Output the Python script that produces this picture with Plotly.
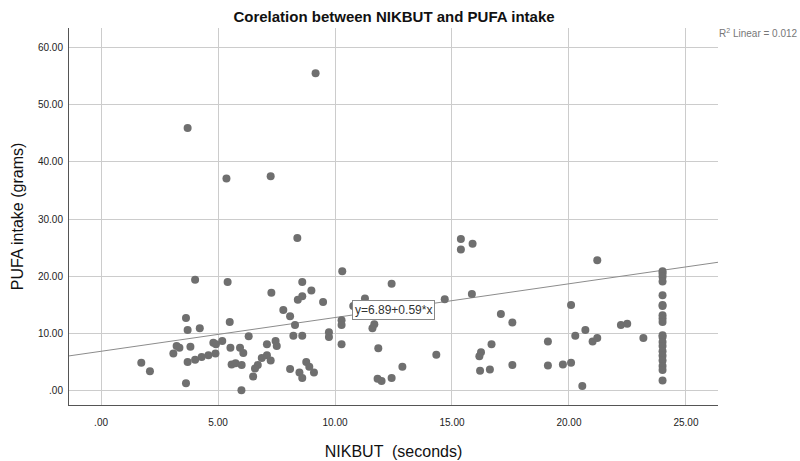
import plotly.graph_objects as go

# NIKBUT (seconds) and PUFA intake (grams) per subject
nikbut = [
    9.17, 3.70, 5.36, 7.25,
    8.39, 10.31, 4.02, 5.41, 8.60, 8.99, 7.28, 8.60, 8.41, 9.49, 7.79, 8.08,
    3.63, 10.78, 10.28, 10.28, 5.50, 8.29, 3.70, 4.22, 8.22, 8.60, 9.74, 9.74,
    6.31, 10.28, 5.18, 4.80, 4.91, 7.46, 7.51, 7.09, 3.23, 3.35, 3.82, 5.53,
    5.94, 6.08, 3.09, 4.89, 4.59, 4.30, 4.02, 3.70, 1.72, 2.09, 6.87, 7.09,
    7.25, 6.70, 6.58, 6.50, 5.58, 5.75, 6.01, 6.00, 3.63, 8.08, 8.48, 8.60,
    8.77, 8.90, 9.10,
    15.38, 15.88, 15.38, 12.42, 15.85, 14.69, 11.28, 17.09, 17.58, 11.68, 11.60,
    11.85, 14.33, 16.69, 16.24, 16.17, 12.88, 11.82, 11.99, 12.42, 16.20, 16.62,
    17.58,
    21.21, 20.09, 19.10, 19.10, 19.74, 20.09, 20.57, 20.27, 20.70, 21.01, 21.21,
    22.22, 22.49, 23.18,
    24.0, 24.0, 24.0, 24.0, 24.0, 24.0, 24.0, 24.0, 24.0, 24.0,
    24.0, 24.0, 24.0, 24.0, 24.0, 24.0, 24.0, 24.0, 24.0, 24.0,
]
pufa = [
    55.5, 45.9, 37.1, 37.5,
    26.7, 20.9, 19.4, 19.0, 19.0, 17.5, 17.1, 16.5, 15.9, 15.5, 14.1, 13.0,
    12.7, 14.8, 12.3, 11.5, 12.0, 11.5, 10.6, 10.9, 9.6, 9.6, 10.2, 9.4,
    9.5, 8.1, 8.7, 8.4, 8.1, 8.7, 7.8, 8.1, 7.8, 7.5, 7.7, 7.5,
    7.5, 6.6, 6.5, 6.5, 6.2, 5.9, 5.4, 5.0, 4.9, 3.4, 5.7, 6.2,
    5.3, 4.5, 3.9, 2.5, 4.6, 4.8, 4.5, 0.1, 1.3, 3.8, 3.2, 2.2,
    5.0, 4.2, 3.2,
    26.5, 25.7, 24.7, 18.7, 16.9, 16.0, 16.1, 13.4, 11.9, 11.6, 10.9,
    7.4, 6.3, 8.1, 6.7, 6.0, 4.2, 2.1, 1.7, 2.2, 3.5, 3.7,
    4.5,
    22.8, 15.0, 8.6, 4.4, 4.6, 4.9, 0.8, 9.6, 10.6, 8.6, 9.2,
    11.5, 11.7, 9.2,
    20.9, 20.5, 19.9, 19.1, 16.7, 15.0, 14.8, 13.2, 12.6, 12.0,
    9.7, 9.4, 8.5, 7.8, 6.9, 6.1, 5.3, 4.3, 3.6, 1.8,
]

# Linear fit as reported: y = 6.89 + 0.59*x
intercept = 6.89
slope = 0.59
r_squared = 0.012

x_range = [-1.37, 26.37]
y_range = [-2.5, 63.4]

x_ticks = [0, 5, 10, 15, 20, 25]
x_tick_text = [".00", "5.00", "10.00", "15.00", "20.00", "25.00"]
y_ticks = [0, 10, 20, 30, 40, 50, 60]
y_tick_text = [".00", "10.00", "20.00", "30.00", "40.00", "50.00", "60.00"]

FONT = "Liberation Sans, Arial, sans-serif"

fig = go.Figure()

fit_x = x_range
fit_y = [intercept + slope * v for v in fit_x]
fig.add_trace(go.Scatter(
    x=fit_x, y=fit_y, mode="lines",
    line=dict(color="#8c8c8c", width=1),
    hoverinfo="skip", showlegend=False,
))

fig.add_trace(go.Scatter(
    x=nikbut, y=pufa, mode="markers",
    marker=dict(color="#6f6f6f", size=8, line=dict(width=0)),
    showlegend=False,
))

# equation label sitting on the fit line
lx = 12.5
fig.add_annotation(
    x=lx, y=intercept + slope * lx - 0.2, xref="x", yref="y",
    text=f"y={intercept:.2f}+{slope:.2f}*x", showarrow=False,
    font=dict(family=FONT, size=12, color="#333333"),
    bgcolor="white", bordercolor="#888888", borderwidth=1, borderpad=2,
)

fig.add_annotation(
    x=0.998, y=0.987, xref="paper", yref="paper", xanchor="left", yanchor="middle",
    text=f"R<sup>2</sup> Linear = {r_squared:.3f}", showarrow=False,
    font=dict(family=FONT, size=10, color="#777777"),
)

fig.update_layout(
    width=800, height=461,
    margin=dict(l=69, r=82, t=28, b=56),
    paper_bgcolor="white", plot_bgcolor="white",
    title=dict(
        text="<b>Corelation between NIKBUT and PUFA intake</b>",
        x=0.4925, xanchor="center", y=0.963, yanchor="middle",
        font=dict(family=FONT, size=15, color="#111111"),
    ),
    xaxis=dict(
        range=x_range, tickvals=x_ticks, ticktext=x_tick_text,
        showgrid=True, gridcolor="#cccccc", gridwidth=1,
        zeroline=False, showline=True, linecolor="#555555", linewidth=1,
        ticks="", ticklabelstandoff=8, automargin=False,
        tickfont=dict(family=FONT, size=10, color="#222222"),
        title=dict(text="NIKBUT  (seconds)", standoff=18,
                   font=dict(family=FONT, size=16, color="#111111")),
    ),
    yaxis=dict(
        range=y_range, tickvals=y_ticks, ticktext=y_tick_text,
        showgrid=True, gridcolor="#cccccc", gridwidth=1,
        zeroline=False, showline=True, linecolor="#555555", linewidth=1,
        ticks="", ticklabelstandoff=3, automargin=False,
        tickfont=dict(family=FONT, size=10, color="#222222"),
        title=dict(text="PUFA intake (grams)", standoff=10,
                   font=dict(family=FONT, size=16, color="#111111")),
    ),
)

fig.write_html("out.html")
